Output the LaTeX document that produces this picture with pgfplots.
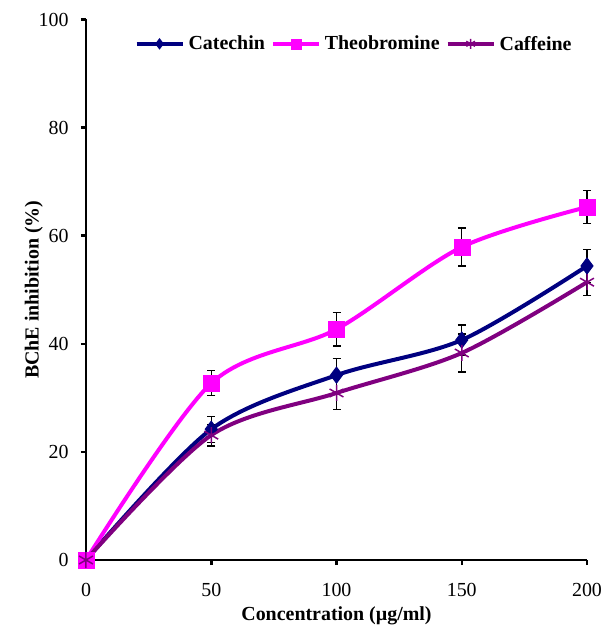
\documentclass[border=0pt]{standalone}
\usepackage{fontspec}
\setmainfont{Liberation Serif}
\usepackage{pgfplots}
\pgfplotsset{compat=1.18}
\definecolor{cat}{RGB}{0,0,128}
\definecolor{theo}{RGB}{255,0,255}
\definecolor{caf}{RGB}{128,0,128}
\begin{document}
\begin{tikzpicture}
\begin{axis}[
  scale only axis, width=501bp, height=540.5bp,
  xmin=0, xmax=200, ymin=0, ymax=100,
  axis lines=left,
  axis line style={line width=2.5bp,-},
  xtick={0,50,100,150,200}, ytick={0,20,40,60,80,100},
  tick style={line width=2.5bp,black},
  tick align=outside, major tick length=5bp,
  ticklabel style={font=\fontsize{20}{20}\selectfont},
  xticklabel style={yshift=-15bp},
  yticklabel style={xshift=-9bp},
  /pgf/number format/assume math mode=true,
  xlabel={Concentration (µg/ml)},
  ylabel={BChE inhibition (\%)},
  label style={font=\fontsize{20}{20}\selectfont\bfseries},
  xlabel style={yshift=-3bp},
  ylabel style={yshift=-11bp},
  clip=false,
  legend style={draw=none, fill=none, at={(0.535,0.955)}, anchor=center,
    legend columns=3, font=\fontsize{20}{20}\selectfont\bfseries,
    /tikz/every even column/.append style={column sep=4bp},
    /tikz/every odd column/.append style={column sep=2bp}},
  legend image code/.code={%
    \draw[#1, mark repeat=2, mark phase=2, mark size=5bp] plot coordinates {(0bp,0bp) (23bp,0bp) (46bp,0bp)};},
  error bars/error bar style={line width=1.3bp, black, solid},
  error bars/error mark options={rotate=90, mark size=4bp, line width=1.3bp, black},
]
\addplot[cat, line width=4bp, smooth, tension=0.5, mark=diamond*, mark size=8bp,
  mark options={solid, fill=cat, line width=1bp},
  error bars/.cd, y dir=both, y explicit]
  table[x=x, y=y, y error=e] {
x y e
0 0 0
50 24.2 2.4
100 34.2 3.1
150 40.7 2.8
200 54.4 3.0
};
\addlegendentry{Catechin}
\addplot[theo, line width=4bp, smooth, tension=0.5, mark=square*, mark size=8bp,
  mark options={solid, fill=theo, line width=0.5bp},
  error bars/.cd, y dir=both, y explicit]
  table[x=x, y=y, y error=e] {
x y e
0 0 0
50 32.7 2.3
100 42.7 3.1
150 57.9 3.5
200 65.3 3.1
};
\addlegendentry{Theobromine}
\addplot[caf, line width=4bp, smooth, tension=0.5, mark=asterisk, mark size=8bp,
  mark options={solid, line width=1.5bp},
  error bars/.cd, y dir=both, y explicit]
  table[x=x, y=y, y error=e] {
x y e
0 0 0
50 23.1 2.0
100 30.9 3.0
150 38.3 3.5
200 51.4 2.5
};
\addlegendentry{Caffeine}
\end{axis}
\path ([xshift=-86bp,yshift=-72bp]current axis.south west) rectangle ([xshift=22bp,yshift=19.5bp]current axis.north east);
\end{tikzpicture}
\end{document}
